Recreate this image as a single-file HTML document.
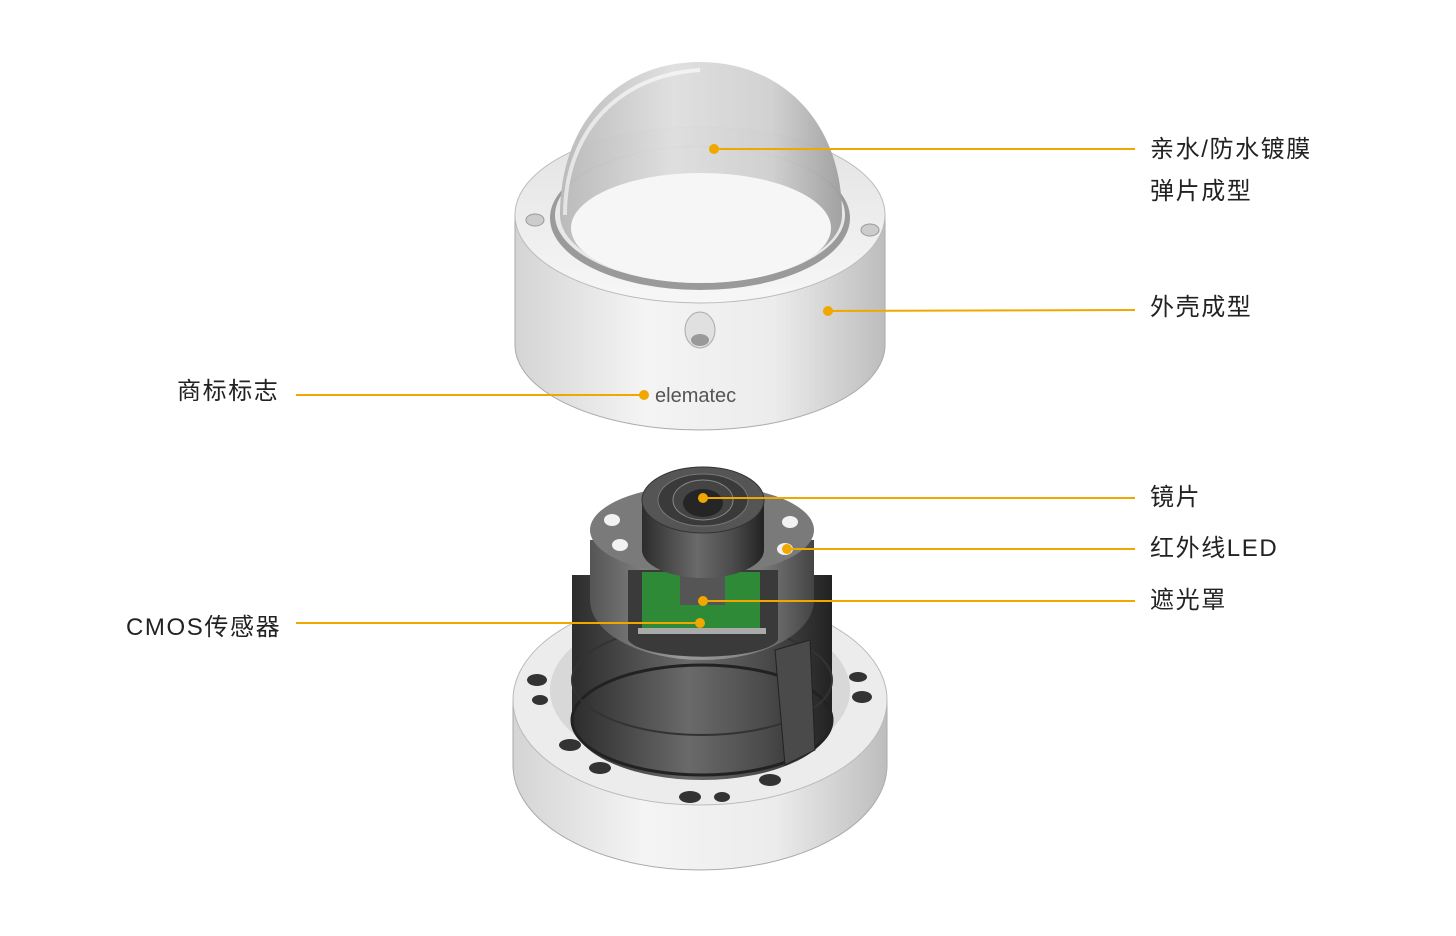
<!DOCTYPE html>
<html><head><meta charset="utf-8"><style>
html,body{margin:0;padding:0;background:#fff;}
body{width:1456px;height:936px;position:relative;overflow:hidden;font-family:"Liberation Sans","Noto Sans CJK SC",sans-serif;}
.t{position:absolute;font-size:24px;letter-spacing:1.6px;color:#222;line-height:1;white-space:nowrap;}
</style></head><body>
<svg width="1456" height="936" style="position:absolute;left:0;top:0">
<defs>
<linearGradient id="side" x1="0" x2="1" y1="0" y2="0">
<stop offset="0" stop-color="#d4d4d4"/><stop offset="0.35" stop-color="#f4f4f4"/><stop offset="0.7" stop-color="#ececec"/><stop offset="1" stop-color="#bdbdbd"/></linearGradient>
<linearGradient id="top" x1="0" x2="0" y1="0" y2="1">
<stop offset="0" stop-color="#e2e2e2"/><stop offset="1" stop-color="#f7f7f7"/></linearGradient>
<linearGradient id="dome" x1="0" x2="1" y1="0" y2="0">
<stop offset="0" stop-color="#b8b8b8"/><stop offset="0.4" stop-color="#dedede"/><stop offset="0.75" stop-color="#cfcfcf"/><stop offset="1" stop-color="#9e9e9e"/></linearGradient>
<linearGradient id="dark" x1="0" x2="1" y1="0" y2="0">
<stop offset="0" stop-color="#2c2c2c"/><stop offset="0.45" stop-color="#6a6a6a"/><stop offset="0.75" stop-color="#4a4a4a"/><stop offset="1" stop-color="#222"/></linearGradient>
<linearGradient id="ring" x1="0" x2="1" y1="0" y2="0">
<stop offset="0" stop-color="#555"/><stop offset="0.4" stop-color="#9a9a9a"/><stop offset="0.7" stop-color="#888"/><stop offset="1" stop-color="#444"/></linearGradient>
</defs>

<!-- TOP HOUSING -->
<path d="M515 215 L515 345 A185 85 0 0 0 885 345 L885 215 Z" fill="url(#side)" stroke="#aaa" stroke-width="1"/>
<ellipse cx="700" cy="215" rx="185" ry="88" fill="url(#top)" stroke="#bbb"/>
<ellipse cx="700" cy="218" rx="150" ry="72" fill="#9a9a9a"/>
<ellipse cx="700" cy="215" rx="145" ry="68" fill="#e8e8e8"/>
<path d="M560 215 C560 120 620 62 700 62 C780 62 842 120 842 215 A141 66 0 0 1 560 215 Z" fill="url(#dome)" opacity="0.95"/>
<ellipse cx="701" cy="228" rx="130" ry="55" fill="#f6f6f6"/>
<path d="M565 215 C565 130 620 75 700 70" fill="none" stroke="#fff" stroke-width="4" opacity="0.6"/>
<ellipse cx="535" cy="220" rx="9" ry="6" fill="#ccc" stroke="#999"/>
<ellipse cx="870" cy="230" rx="9" ry="6" fill="#ccc" stroke="#999"/>
<ellipse cx="700" cy="330" rx="15" ry="18" fill="#e0e0e0" stroke="#aaa"/>
<ellipse cx="700" cy="340" rx="9" ry="6" fill="#999"/>
<text x="655" y="402" font-family="Liberation Sans,sans-serif" font-size="20" fill="#555">elematec</text>

<!-- BOTTOM BASE -->
<path d="M513 700 L513 765 A187 105 0 0 0 887 765 L887 700 Z" fill="url(#side)" stroke="#aaa"/>
<ellipse cx="700" cy="700" rx="187" ry="105" fill="#ececec" stroke="#bbb"/>
<ellipse cx="700" cy="690" rx="150" ry="82" fill="#d8d8d8"/>
<g fill="#333">
<ellipse cx="537" cy="680" rx="10" ry="6"/><ellipse cx="540" cy="700" rx="8" ry="5"/>
<ellipse cx="570" cy="745" rx="11" ry="6"/><ellipse cx="600" cy="768" rx="11" ry="6"/>
<ellipse cx="690" cy="797" rx="11" ry="6"/><ellipse cx="722" cy="797" rx="8" ry="5"/>
<ellipse cx="770" cy="780" rx="11" ry="6"/><ellipse cx="858" cy="677" rx="9" ry="5"/><ellipse cx="862" cy="697" rx="10" ry="6"/>
</g>
<path d="M572 575 L572 720 A130 60 0 0 0 832 720 L832 575 Z" fill="url(#dark)"/>
<ellipse cx="702" cy="720" rx="130" ry="55" fill="none" stroke="#222" stroke-width="3"/>
<ellipse cx="702" cy="680" rx="130" ry="55" fill="none" stroke="#333" stroke-width="2"/>
<path d="M775 650 L810 640 L815 750 L785 765 Z" fill="#4a4a4a" stroke="#222"/>
<path d="M590 540 L590 600 A112 60 0 0 0 814 600 L814 540 Z" fill="url(#ring)"/>
<ellipse cx="702" cy="530" rx="112" ry="45" fill="#7a7a7a"/>
<g fill="#f2f2f2"><ellipse cx="612" cy="520" rx="8" ry="6"/><ellipse cx="620" cy="545" rx="8" ry="6"/><ellipse cx="790" cy="522" rx="8" ry="6"/><ellipse cx="785" cy="549" rx="8" ry="6"/></g>
<path d="M628 570 L778 570 L778 640 A76 20 0 0 1 628 640 Z" fill="#3a3a3a"/>
<rect x="642" y="572" width="118" height="60" fill="#2e8a36"/>
<rect x="638" y="628" width="128" height="6" fill="#aaa"/>
<rect x="680" y="570" width="45" height="35" fill="#555"/>
<path d="M642 500 L642 550 A61 28 0 0 0 764 550 L764 500 Z" fill="url(#dark)"/>
<ellipse cx="703" cy="500" rx="61" ry="33" fill="#555" stroke="#333"/>
<ellipse cx="703" cy="500" rx="45" ry="26" fill="#3a3a3a" stroke="#777"/>
<ellipse cx="703" cy="500" rx="30" ry="20" fill="#444" stroke="#888"/>
<ellipse cx="703" cy="503" rx="20" ry="14" fill="#252525"/>

<g stroke="#f0a800" stroke-width="2" fill="none">
<line x1="714" y1="149" x2="1135" y2="149"/>
<line x1="828" y1="311" x2="1135" y2="310"/>
<line x1="296" y1="395" x2="644" y2="395"/>
<line x1="703" y1="498" x2="1135" y2="498"/>
<line x1="787" y1="549" x2="1135" y2="549"/>
<line x1="703" y1="601" x2="1135" y2="601"/>
<line x1="296" y1="623" x2="700" y2="623"/>
</g>
<g fill="#f0a800">
<circle cx="714" cy="149" r="5"/><circle cx="828" cy="311" r="5"/><circle cx="644" cy="395" r="5"/>
<circle cx="703" cy="498" r="5"/><circle cx="787" cy="549" r="5"/><circle cx="703" cy="601" r="5"/><circle cx="700" cy="623" r="5"/>
</g>
</svg>
<div class="t" style="left:1150px;top:138px">亲水/防水镀膜</div>
<div class="t" style="left:1150px;top:180px">弹片成型</div>
<div class="t" style="left:1150px;top:296px">外壳成型</div>
<div class="t" style="left:177px;top:380px">商标标志</div>
<div class="t" style="left:1150px;top:486px">镜片</div>
<div class="t" style="left:1150px;top:537px">红外线LED</div>
<div class="t" style="left:1150px;top:589px">遮光罩</div>
<div class="t" style="left:126px;top:616px">CMOS传感器</div>
</body></html>
